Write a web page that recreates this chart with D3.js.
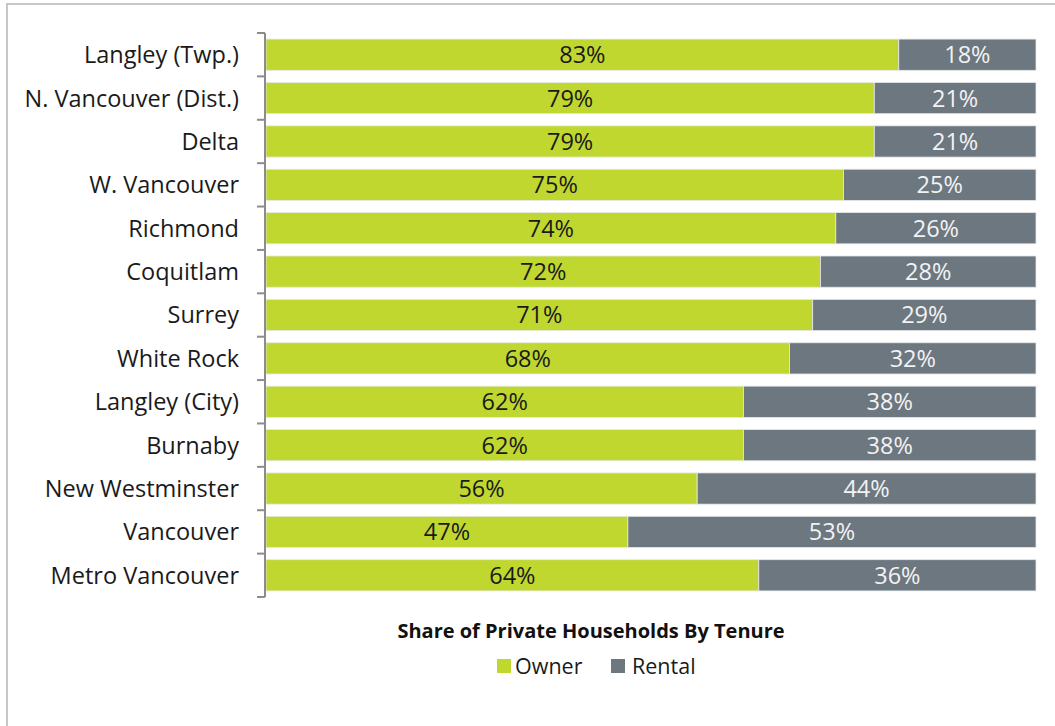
<!DOCTYPE html>
<html>
<head>
<meta charset="utf-8">
<script src="https://cdn.jsdelivr.net/npm/d3@7"></script>
<style>
  html, body { margin: 0; padding: 0; background: #fff; }
  svg { display: block; }
  text { font-family: "Open Sans", Lato, sans-serif; }
</style>
</head>
<body>
<svg id="chart" width="1055" height="726"></svg>
<script>
// Share of private households by tenure, per municipality
const categories = [
  "Langley (Twp.)", "N. Vancouver (Dist.)", "Delta", "W. Vancouver", "Richmond",
  "Coquitlam", "Surrey", "White Rock", "Langley (City)", "Burnaby",
  "New Westminster", "Vancouver", "Metro Vancouver"
];
const ownerValues  = [83, 79, 79, 75, 74, 72, 71, 68, 62, 62, 56, 47, 64];
const rentalValues = [18, 21, 21, 25, 26, 28, 29, 32, 38, 38, 44, 53, 36];
const seriesNames = ["Owner", "Rental"];
const seriesColors = ["#c0d730", "#6d7780"];
const labelColors = ["#1a1a1a", "#f2f2f2"];
const chartTitle = "Share of Private Households By Tenure";

const rows = categories.map((c, i) => ({ name: c, Owner: ownerValues[i], Rental: rentalValues[i] }));

const svg = d3.select("#chart");

// outer frame
svg.append("rect")
  .attr("x", 7).attr("y", 4)
  .attr("width", 1060).attr("height", 740)
  .attr("fill", "none").attr("stroke", "#c4c8cb").attr("stroke-width", 2);

const x = d3.scaleLinear().domain([0, 1]).range([266, 1036]);
const y = d3.scaleBand().domain(categories).range([33, 597]).paddingInner(0.28).paddingOuter(0.14);

// 100% stacked layout
const stack = d3.stack().keys(seriesNames).offset(d3.stackOffsetExpand);
const layers = stack(rows);

const g = svg.append("g");
layers.forEach((layer, li) => {
  const lg = g.append("g");
  lg.selectAll("rect").data(layer).join("rect")
    .attr("x", d => x(d[0]))
    .attr("y", d => y(d.data.name))
    .attr("width", d => x(d[1]) - x(d[0]))
    .attr("height", y.bandwidth())
    .attr("fill", seriesColors[li])
    .attr("stroke", "#e6e9ea").attr("stroke-width", 0.8);
  lg.selectAll("text").data(layer).join("text")
    .attr("x", d => (x(d[0]) + x(d[1])) / 2)
    .attr("y", d => y(d.data.name) + y.bandwidth() / 2)
    .attr("dy", "0.36em")
    .attr("text-anchor", "middle")
    .attr("font-size", 23.5)
    .attr("fill", labelColors[li])
    .text(d => d.data[seriesNames[li]] + "%");
});

// category axis with boundary ticks
const axisX = 265;
const boundaries = d3.range(categories.length + 1).map(i => 33 + i * (564 / categories.length));
svg.append("line")
  .attr("x1", axisX).attr("x2", axisX)
  .attr("y1", boundaries[0]).attr("y2", boundaries[boundaries.length - 1])
  .attr("stroke", "#8c8c8c").attr("stroke-width", 2);
svg.selectAll(".tick").data(boundaries).join("line")
  .attr("class", "tick")
  .attr("x1", axisX - 8).attr("x2", axisX)
  .attr("y1", d => d).attr("y2", d => d)
  .attr("stroke", "#8c8c8c").attr("stroke-width", 2);
svg.selectAll(".cat").data(categories).join("text")
  .attr("class", "cat")
  .attr("x", 239)
  .attr("y", d => y(d) + y.bandwidth() / 2)
  .attr("dy", "0.36em")
  .attr("text-anchor", "end")
  .attr("font-size", 23.5)
  .attr("fill", "#1a1a1a")
  .text(d => d);

// title
svg.append("text")
  .attr("x", 591).attr("y", 638)
  .attr("text-anchor", "middle")
  .attr("font-size", 20).attr("font-weight", "bold")
  .attr("fill", "#111")
  .text(chartTitle);

// legend
const legendItems = [
  { name: seriesNames[0], color: seriesColors[0], sx: 497, tx: 515 },
  { name: seriesNames[1], color: seriesColors[1], sx: 611, tx: 632 }
];
const lg = svg.append("g");
lg.selectAll("rect").data(legendItems).join("rect")
  .attr("x", d => d.sx).attr("y", 659)
  .attr("width", 14).attr("height", 14)
  .attr("fill", d => d.color);
lg.selectAll("text").data(legendItems).join("text")
  .attr("x", d => d.tx).attr("y", 666)
  .attr("dy", "0.36em")
  .attr("font-size", 21.5)
  .attr("fill", "#1a1a1a")
  .text(d => d.name);
</script>
</body>
</html>
